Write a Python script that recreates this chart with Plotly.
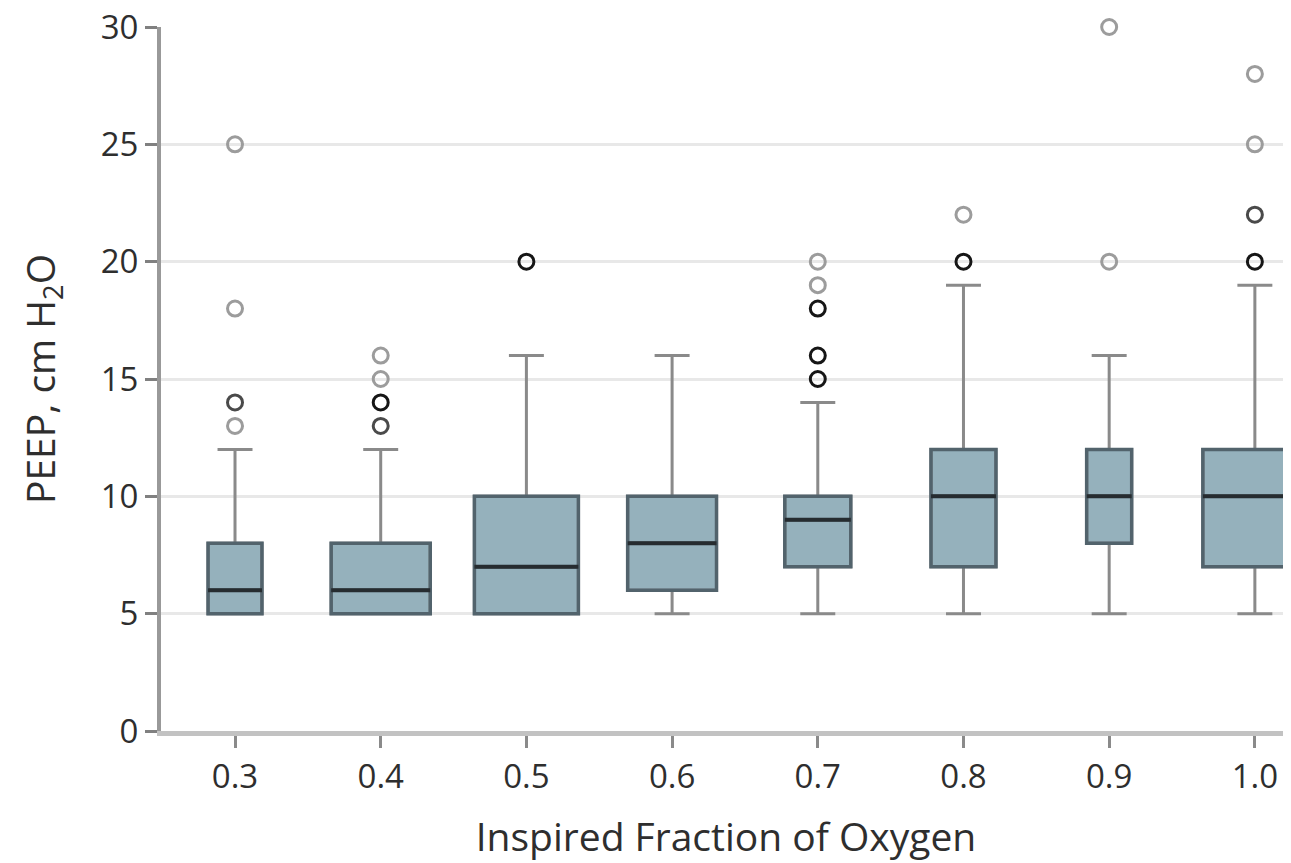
import plotly.graph_objects as go
from collections import Counter

# ---------------- data ----------------
fio2 = [0.3, 0.4, 0.5, 0.6, 0.7, 0.8, 0.9, 1.0]
tick_labels = ["0.3", "0.4", "0.5", "0.6", "0.7", "0.8", "0.9", "1.0"]
q1 = [5, 5, 5, 6, 7, 7, 8, 7]
median = [6, 6, 7, 8, 9, 10, 10, 10]
q3 = [8, 8, 10, 10, 10, 12, 12, 12]
lower_fence = [5, 5, 5, 5, 5, 5, 5, 5]
upper_fence = [12, 12, 16, 16, 14, 19, 16, 19]
# outlier values (repeats = several patients at the same value)
outliers = [
    [25, 18, 14, 14, 13],
    [16, 15, 14, 14, 14, 13, 13],
    [20, 20, 20],
    [],
    [20, 19, 18, 18, 18, 16, 16, 16, 15, 15, 15],
    [22, 20, 20, 20],
    [30, 20],
    [28, 25, 22, 22, 20, 20, 20],
]
y_ticks = [0, 5, 10, 15, 20, 25, 30]

# ---------------- style ----------------
BOX_WIDTHS = [0.037, 0.068, 0.0714, 0.061, 0.0453, 0.0446, 0.0309, 0.0714]
CAP_WIDTH = 0.024
FILL = "#95b1bc"
OUTLINE = "#52636c"
MEDIAN = "#262c30"
WHISKER = "#8a8a8a"
TEXT = "#2e2e2e"
FONT = "Open Sans"
OUT_COLORS = {1: "#9c9c9c", 2: "#4a4a4a", 3: "#161616"}

fig = go.Figure()

for i, x in enumerate(fio2):
    w = BOX_WIDTHS[i]
    # whiskers + fill
    fig.add_trace(go.Box(
        x=[x], q1=[q1[i]], median=[median[i]], q3=[q3[i]],
        lowerfence=[lower_fence[i]], upperfence=[upper_fence[i]],
        width=w, whiskerwidth=min(1, CAP_WIDTH / w),
        fillcolor=FILL, line=dict(color=WHISKER, width=3),
        boxpoints=False, hoverinfo="skip", showlegend=False))
    # box outline
    fig.add_trace(go.Box(
        x=[x], q1=[q1[i]], median=[median[i]], q3=[q3[i]],
        lowerfence=[q1[i]], upperfence=[q3[i]],
        width=w, whiskerwidth=0,
        fillcolor="rgba(0,0,0,0)", line=dict(color=OUTLINE, width=3.5),
        boxpoints=False, hoverinfo="skip", showlegend=False))
    # median line
    m = median[i]
    fig.add_trace(go.Box(
        x=[x], q1=[m], median=[m], q3=[m], lowerfence=[m], upperfence=[m],
        width=w, whiskerwidth=0,
        fillcolor="rgba(0,0,0,0)", line=dict(color=MEDIAN, width=4),
        boxpoints=False, hoverinfo="skip", showlegend=False))

# outliers
for level in (1, 2, 3):
    xs, ys = [], []
    for i, x in enumerate(fio2):
        for v, c in Counter(outliers[i]).items():
            if min(c, 3) == level:
                xs.append(x)
                ys.append(v)
    fig.add_trace(go.Scatter(
        x=xs, y=ys, mode="markers", cliponaxis=False,
        marker=dict(symbol="circle-open", size=15,
                    line=dict(color=OUT_COLORS[level], width=3),
                    color=OUT_COLORS[level]),
        hoverinfo="skip", showlegend=False))

fig.update_layout(
    width=1283, height=855,
    margin=dict(l=153, r=0, t=19, b=132),
    paper_bgcolor="white", plot_bgcolor="white",
    font=dict(family=FONT, color=TEXT, size=34),
    boxmode="overlay",
    xaxis=dict(
        range=[0.2492, 1.0248], automargin=False,
        tickvals=fio2, ticktext=tick_labels,
        showgrid=False, zeroline=False,
        showline=True, linecolor="#c2c2c2", linewidth=5,
        ticks="outside", ticklen=12, tickwidth=3, tickcolor="#8a8a8a",
        tickfont=dict(size=33, family=FONT, color=TEXT),
        ticklabelstandoff=0, ticklabeloverflow="allow",
        title=dict(text="Inspired Fraction of Oxygen",
                   font=dict(size=39, family=FONT, color=TEXT), standoff=29),
    ),
    yaxis=dict(
        range=[0, 30], tickvals=y_ticks, automargin=False,
        showgrid=True, gridcolor="#e8e8e8", gridwidth=3,
        zeroline=False,
        showline=True, linecolor="#999999", linewidth=4,
        ticks="outside", ticklen=12, tickwidth=3, tickcolor="#808080",
        tickfont=dict(size=33, family=FONT, color=TEXT),
        ticklabelstandoff=0, ticklabeloverflow="allow",
        title=dict(text="PEEP, cm H<sub>2</sub>O",
                   font=dict(size=39, family=FONT, color=TEXT), standoff=34),
    ),
)

fig.write_html("out.html")
